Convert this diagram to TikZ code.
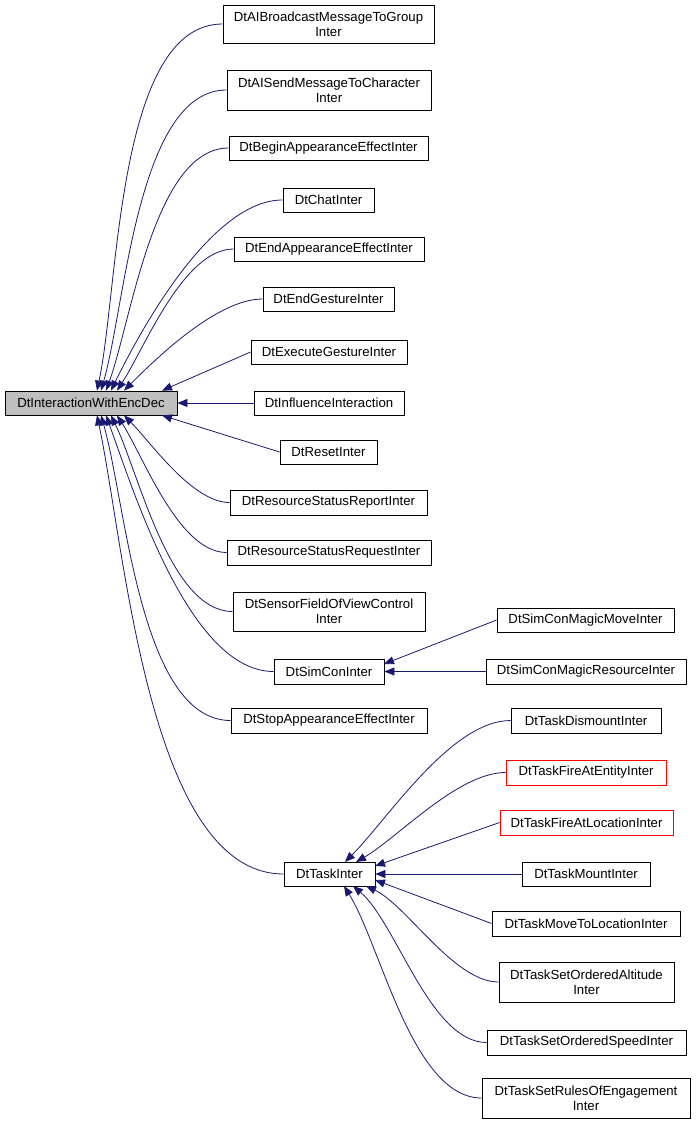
\documentclass[tikz,border=0pt]{standalone}
\usepackage{fontspec}
\setmainfont{Liberation Sans}
\usetikzlibrary{arrows.meta}
\definecolor{navy}{HTML}{191970}
\begin{document}
\begin{tikzpicture}[x=0.75pt,y=-0.75pt,
  box/.style={draw=black,line width=0.6pt,fill=white,inner sep=0pt,align=center,font=\fontsize{9.9pt}{11pt}\selectfont},
  redbox/.style={box,draw=red},
  edge/.style={draw=navy,line width=0.6pt,looseness=0.7,-{Triangle[length=7.5pt,width=6pt]}}]
\useasboundingbox (0,0) rectangle (696,1127);
\newcommand\bx[7][box]{\node[#1,minimum width={(#4-#3)*0.75pt},minimum height={(#6-#5)*0.75pt}] (#2) at ({(#3+#4)/2},{(#5+#6)/2}) {#7};}
\bx[box,fill=black!25]{root}{5}{177}{391}{415}{DtInteractionWithEncDec}
\bx{a1}{223}{434}{5}{43}{DtAIBroadcastMessageToGroup\\Inter}
\bx{a2}{227}{431}{70}{110}{DtAISendMessageToCharacter\\Inter}
\bx{a3}{229}{428}{136}{160}{DtBeginAppearanceEffectInter}
\bx{a4}{283}{374}{188}{212}{DtChatInter}
\bx{a5}{234}{424}{237}{261}{DtEndAppearanceEffectInter}
\bx{a6}{263}{394}{287}{311}{DtEndGestureInter}
\bx{a7}{251}{407}{340}{364}{DtExecuteGestureInter}
\bx{a8}{254}{404}{391}{415}{DtInfluenceInteraction}
\bx{a9}{280}{377}{440}{464}{DtResetInter}
\bx{a10}{230}{427}{490}{515}{DtResourceStatusReportInter}
\bx{a11}{227}{431}{540}{565}{DtResourceStatusRequestInter}
\bx{a12}{233}{425}{592}{631}{DtSensorFieldOfViewControl\\Inter}
\bx{a13}{274}{384}{659}{684}{DtSimConInter}
\bx{a14}{231}{427}{708}{733}{DtStopAppearanceEffectInter}
\bx{a15}{284}{375}{862}{886}{DtTaskInter}
\bx{s1}{497}{674}{608}{632}{DtSimConMagicMoveInter}
\bx{s2}{486}{686}{659}{684}{DtSimConMagicResourceInter}
\bx{t1}{511}{661}{708}{733}{DtTaskDismountInter}
\bx[redbox]{t2}{506}{666}{760}{785}{DtTaskFireAtEntityInter}
\bx[redbox]{t3}{500}{673}{810}{835}{DtTaskFireAtLocationInter}
\bx{t4}{522}{650}{862}{886}{DtTaskMountInter}
\bx{t5}{492}{680}{911}{936}{DtTaskMoveToLocationInter}
\bx{t6}{499}{674}{962}{1002}{DtTaskSetOrderedAltitude\\Inter}
\bx{t7}{487}{686}{1030}{1055}{DtTaskSetOrderedSpeedInter}
\bx{t8}{482}{690}{1078}{1118}{DtTaskSetRulesOfEngagement\\Inter}
% root edges
\draw[edge] (a1.west) to[out=180,in=78] (root.north west -| 97,0);
\draw[edge] (a2.west) to[out=180,in=74] (root.north west -| 101,0);
\draw[edge] (a3.west) to[out=180,in=70] (root.north west -| 106,0);
\draw[edge] (a4.west) to[out=180,in=64] (root.north west -| 111,0);
\draw[edge] (a5.west) to[out=180,in=57] (root.north west -| 117,0);
\draw[edge] (a6.west) to[out=180,in=45] (root.north west -| 124,0);
\draw[edge] (a7.west) -- (root.north west -| 162,0);
\draw[edge] (a8.west) -- (root.east);
\draw[edge] (a9.west) -- (root.south west -| 162,0);
\draw[edge] (a10.west) to[out=180,in=-45] (root.south west -| 124,0);
\draw[edge] (a11.west) to[out=180,in=-57] (root.south west -| 117,0);
\draw[edge] (a12.west) to[out=180,in=-64] (root.south west -| 111,0);
\draw[edge] (a13.west) to[out=180,in=-70] (root.south west -| 106,0);
\draw[edge] (a14.west) to[out=180,in=-74] (root.south west -| 101,0);
\draw[edge] (a15.west) to[out=180,in=-78] (root.south west -| 97,0);
% simcon
\draw[edge] (s1.west) -- (384,664);
\draw[edge] (s2.west) -- (a13.east);
% task
\draw[edge] (t1.west) to[out=180,in=45] (345,862);
\draw[edge] (t2.west) to[out=180,in=30] (356,862);
\draw[edge] (t3.west) -- (375,866);
\draw[edge] (t4.west) -- (a15.east);
\draw[edge] (t5.west) -- (375,880);
\draw[edge] (t6.west) to[out=180,in=-25] (366,886);
\draw[edge] (t7.west) to[out=180,in=-40] (353,886);
\draw[edge] (t8.west) to[out=180,in=-58] (344,886);
\end{tikzpicture}
\end{document}
